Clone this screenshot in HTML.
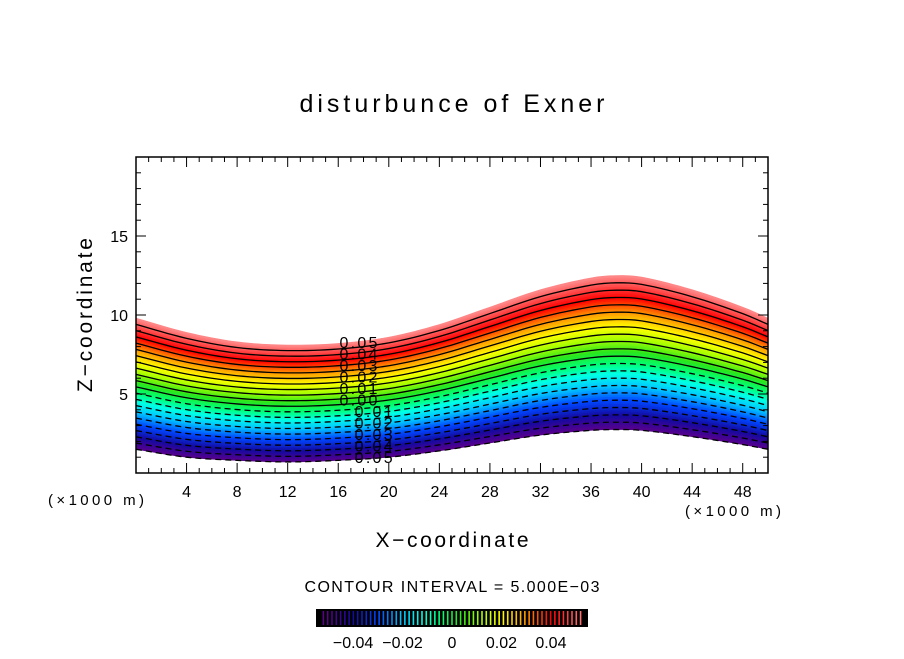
<!DOCTYPE html>
<html><head><meta charset="utf-8"><style>
body{margin:0;background:#fff;}
svg text{font-family:"Liberation Sans","DejaVu Sans",sans-serif;fill:#000;}
</style></head><body>
<svg id="chart" width="904" height="654" viewBox="0 0 904 654">
<text x="452" y="112" font-size="25" text-anchor="middle" textLength="305" lengthAdjust="spacing">disturbunce of Exner</text>
<g id="field"></g>
<g id="lines"></g>
<g id="labels"></g>
<rect x="136" y="157" width="632" height="316" fill="none" stroke="#000" stroke-width="1.5"/>
<g id="ticks"></g>
<text transform="translate(92,315) rotate(-90)" font-size="21" text-anchor="middle" textLength="154" lengthAdjust="spacing">Z−coordinate</text>
<text x="452" y="547" font-size="21" text-anchor="middle" textLength="153" lengthAdjust="spacing">X−coordinate</text>
<text x="96" y="505" font-size="15" text-anchor="middle" textLength="96" lengthAdjust="spacing">(×1000 m)</text>
<text x="733" y="516" font-size="15" text-anchor="middle" textLength="96" lengthAdjust="spacing">(×1000 m)</text>
<text x="452" y="592" font-size="16" text-anchor="middle" textLength="295" lengthAdjust="spacing">CONTOUR INTERVAL = 5.000E−03</text>
<rect x="316" y="609" width="272" height="18" fill="#000"/>
<g id="cbar"></g>
<g id="cbticks"></g>
</svg>
<script>
const xs=[0,4,8,12,16,20,24,28,32,36,38,40,44,48,50];
const bottomZ=[1.5,1.0,0.8,0.7,0.8,1.0,1.4,1.9,2.4,2.7,2.75,2.7,2.3,1.8,1.5];
const topZ=[9.8,8.9,8.3,8.1,8.2,8.6,9.4,10.5,11.6,12.35,12.5,12.4,11.6,10.5,9.8];
const vMin=-0.05, vMax=0.055;
const levels=[-0.05,-0.045,-0.04,-0.035,-0.03,-0.025,-0.02,-0.015,-0.01,-0.005,0,0.005,0.01,0.015,0.02,0.025,0.03,0.035,0.04,0.045,0.05];
const xTicks=[4,8,12,16,20,24,28,32,36,40,44,48];
const yTicks=[5,10,15];
const cbLabels=[-0.04,-0.02,0,0.02,0.04];
const cbLabelText=["−0.04","−0.02","0","0.02","0.04"];
const NS="http://www.w3.org/2000/svg";
const X=v=>136+v*632/50, Y=v=>473-v*316/20;
const stops=[[-0.05,[90,0,140]],[-0.04,[20,10,160]],[-0.03,[0,70,255]],[-0.02,[0,200,255]],[-0.012,[0,255,230]],[-0.005,[0,255,120]],[0.003,[40,230,30]],[0.012,[170,255,0]],[0.02,[255,255,0]],[0.03,[255,150,0]],[0.04,[255,0,0]],[0.055,[255,140,140]]];
function col(v){v=Math.max(-0.05,Math.min(0.055,v));for(let i=0;i<stops.length-1;i++){const a=stops[i],b=stops[i+1];if(v<=b[0]){const t=(v-a[0])/(b[0]-a[0]);const c=a[1].map((q,k)=>Math.round(q+(b[1][k]-q)*t));return `rgb(${c})`;}}return 'rgb(255,140,140)';}
const fx=[];for(let x=0;x<=50;x+=0.5)fx.push(x);
function interp(arr,x){
  let i=0;while(i<xs.length-2&&x>xs[i+1])i++;
  const x0=xs[i],x1=xs[i+1],h=x1-x0,t=(x-x0)/h;
  const slope=k=>{const a=Math.max(0,k-1),b=Math.min(xs.length-1,k+1);return (arr[b]-arr[a])/(xs[b]-xs[a]);};
  const m0=slope(i)*h,m1=slope(i+1)*h,p0=arr[i],p1=arr[i+1];
  const t2=t*t,t3=t2*t;
  return (2*t3-3*t2+1)*p0+(t3-2*t2+t)*m0+(-2*t3+3*t2)*p1+(t3-t2)*m1;
}
function zAt(x,v){const b=interp(bottomZ,x),t=interp(topZ,x);return b+(t-b)*(v-vMin)/(vMax-vMin);}
function line(v){return fx.map(x=>[X(x),Y(zAt(x,v))]);}
const field=document.getElementById('field');
const N=84;
for(let i=0;i<N;i++){const v0=vMin+(vMax-vMin)*i/N,v1=vMin+(vMax-vMin)*(i+1)/N;
const a=line(v0),b=line(v1).reverse();
const p=document.createElementNS(NS,'polygon');
p.setAttribute('points',a.concat(b).map(q=>q.join(',')).join(' '));
p.setAttribute('fill',col((v0+v1)/2));p.setAttribute('stroke',col((v0+v1)/2));p.setAttribute('stroke-width','0.6');


field.appendChild(p);}
const lg=document.getElementById('lines');
levels.forEach(v=>{const p=document.createElementNS(NS,'polyline');
p.setAttribute('points',line(v).map(q=>q.join(',')).join(' '));
p.setAttribute('fill','none');p.setAttribute('stroke','#000');p.setAttribute('stroke-width','1.3');
if(v<-1e-9)p.setAttribute('stroke-dasharray','6,4');


lg.appendChild(p);});
const lb=document.getElementById('labels');
const labVals=[0.05,0.04,0.03,0.02,0.01,0.0,-0.01,-0.02,-0.03,-0.04,-0.05];
labVals.forEach((v,i)=>{const x=v>=0?17.6:18.8;const t=document.createElementNS(NS,'text');
t.setAttribute('x',X(x));t.setAttribute('y',343+i*11.5+5);t.setAttribute('font-size','16');t.setAttribute('text-anchor','middle');
t.setAttribute('textLength','38');t.setAttribute('lengthAdjust','spacing');
t.textContent=Math.abs(v).toFixed(2);


lb.appendChild(t);});
const tk=document.getElementById('ticks');let s='';
for(let x=1;x<50;x++){const L=x%4===0?10:5;s+=`<line x1="${X(x)}" y1="473" x2="${X(x)}" y2="${473-L}" stroke="#000"/><line x1="${X(x)}" y1="157" x2="${X(x)}" y2="${157+L}" stroke="#000"/>`;}
for(let y=1;y<20;y++){const L=y%5===0?10:5;s+=`<line x1="136" y1="${Y(y)}" x2="${136+L}" y2="${Y(y)}" stroke="#000"/><line x1="768" y1="${Y(y)}" x2="${768-L}" y2="${Y(y)}" stroke="#000"/>`;}
tk.innerHTML=s;
xTicks.forEach(v=>{const t=document.createElementNS(NS,'text');t.setAttribute('x',X(v));t.setAttribute('y',497);t.setAttribute('font-size','16');t.setAttribute('text-anchor','middle');t.textContent=v;


tk.appendChild(t);});
yTicks.forEach(v=>{const t=document.createElementNS(NS,'text');t.setAttribute('x',128);t.setAttribute('y',Y(v)+6);t.setAttribute('font-size','16');t.setAttribute('text-anchor','end');t.textContent=v;


tk.appendChild(t);});
const cb=document.getElementById('cbar');const CX=v=>316+(v+0.055)/(0.11)*272;
for(let i=0;i<=60;i++){const v=-0.052+i*0.104/60;const l=document.createElementNS(NS,'line');
l.setAttribute('x1',CX(v));l.setAttribute('x2',CX(v));l.setAttribute('y1',611);l.setAttribute('y2',625);l.setAttribute('stroke',col(v));l.setAttribute('stroke-width','1.6');


cb.appendChild(l);}
const cbt=document.getElementById('cbticks');
cbLabels.forEach((v,i)=>{const t=document.createElementNS(NS,'text');t.setAttribute('x',CX(v));t.setAttribute('y',648);t.setAttribute('font-size','16');t.setAttribute('text-anchor','middle');t.textContent=cbLabelText[i];


cbt.appendChild(t);});
</script>
</body></html>
